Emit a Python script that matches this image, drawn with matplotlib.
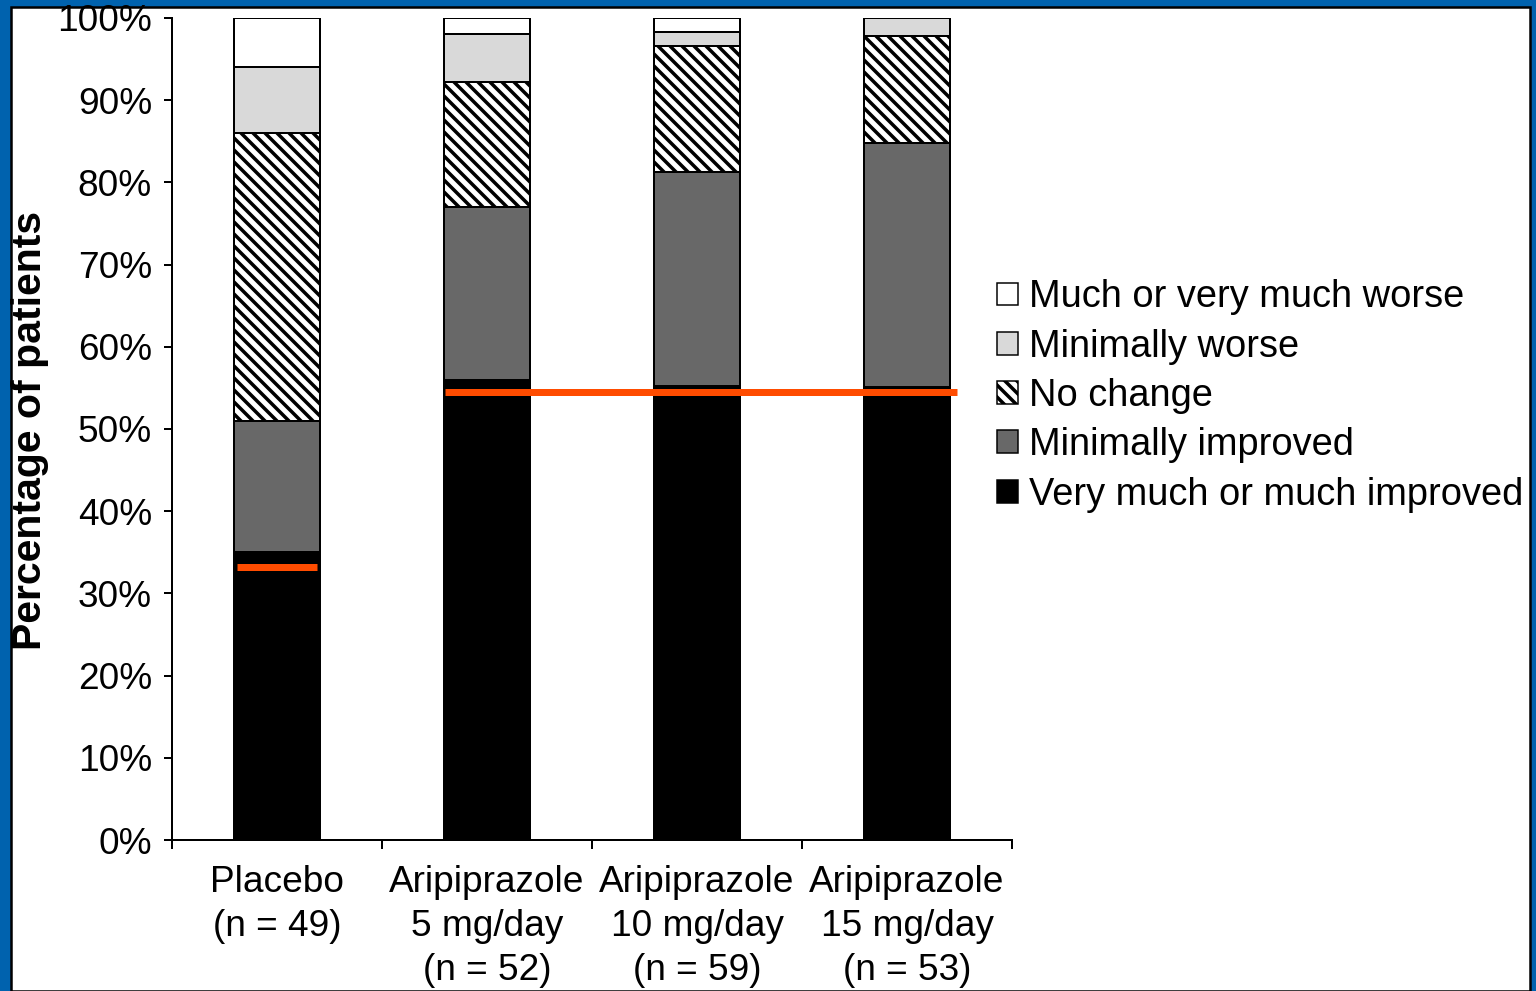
import matplotlib
matplotlib.use("Agg")
from matplotlib import pyplot as plt
from matplotlib.patches import Rectangle, Patch

plt.rcParams['font.family'] = ['Liberation Sans', 'DejaVu Sans']
plt.rcParams['hatch.linewidth'] = 3.5

# data (percent of patients)
groups = ["Placebo\n(n = 49)", "Aripiprazole\n5 mg/day\n(n = 52)",
          "Aripiprazole\n10 mg/day\n(n = 59)", "Aripiprazole\n15 mg/day\n(n = 53)"]
much_improved = [35, 56, 55.2, 55.1]
min_improved = [16, 21, 26.1, 29.7]
no_change = [35, 15.2, 15.3, 13]
min_worse = [8, 5.8, 1.7, 2.2]
much_worse = [6, 2, 1.7, 0]

series = [
    ("Very much or much improved", much_improved, "black", None),
    ("Minimally improved", min_improved, "#686868", None),
    ("No change", no_change, "white", "\\\\"),
    ("Minimally worse", min_worse, "#d9d9d9", None),
    ("Much or very much worse", much_worse, "white", None),
]

# highlighted levels: (value, x from, x to)
ref_lines = [(33.2, -0.19, 0.19), (54.5, 0.80, 3.24)]

DPI = 72
fig = plt.figure(figsize=(1536 / DPI, 991 / DPI), dpi=DPI)
fig.patch.set_facecolor("#0062ae")
fig.patches.append(Rectangle((11 / 1536, 0), 1519 / 1536, 984 / 991, transform=fig.transFigure,
                             facecolor="white", edgecolor="black", linewidth=2.5, zorder=-5))

ax = fig.add_axes([172 / 1536, 151 / 991, 840 / 1536, 822 / 991])
ax.set_facecolor("none")

x = list(range(len(groups)))
bottom = [0] * len(groups)
for label, vals, color, hatch in series:
    ax.bar(x, vals, width=0.405, bottom=bottom, color=color, edgecolor="black",
           linewidth=2, hatch=hatch, label=label, zorder=2)
    bottom = [b + v for b, v in zip(bottom, vals)]

for level, x0, x1 in ref_lines:
    ax.hlines(level, x0, x1, color="#ff4c00", linewidth=7, zorder=3)

ax.set_xlim(-0.5, 3.5)
ax.set_ylim(0, 100)
ax.set_yticks(range(0, 101, 10))
ax.set_yticklabels([f"{v}%" for v in range(0, 101, 10)])
ax.set_xticks([-0.5, 0.5, 1.5, 2.5, 3.5])
ax.set_xticklabels([])
ax.set_xticks(x, minor=True)
ax.set_xticklabels(groups, minor=True, linespacing=1.34)
ax.tick_params(axis="x", which="minor", length=0, pad=25, labelsize=37)
ax.tick_params(axis="x", which="major", length=9, width=2, direction="out")
ax.tick_params(axis="y", length=8, width=2, pad=12, labelsize=37)
for s in ["top", "right"]:
    ax.spines[s].set_visible(False)
for s in ["left", "bottom"]:
    ax.spines[s].set_linewidth(2)

fig.text(30 / 1536, 1 - 430 / 991, "Percentage of patients", rotation=90,
         ha="center", va="center", fontsize=41, fontweight="bold")

handles = [Patch(facecolor=c, edgecolor="black", hatch=h, linewidth=1.5, label=l)
           for l, v, c, h in series[::-1]]
fig.legend(handles=handles, loc="center left", bbox_to_anchor=(997 / 1536, 1 - 396 / 991),
           frameon=False, fontsize=38, handlelength=0.55, handleheight=0.55,
           handletextpad=0.3, labelspacing=0.35, borderpad=0, borderaxespad=0)

fig.savefig("out.png", dpi=DPI, facecolor=fig.get_facecolor())
